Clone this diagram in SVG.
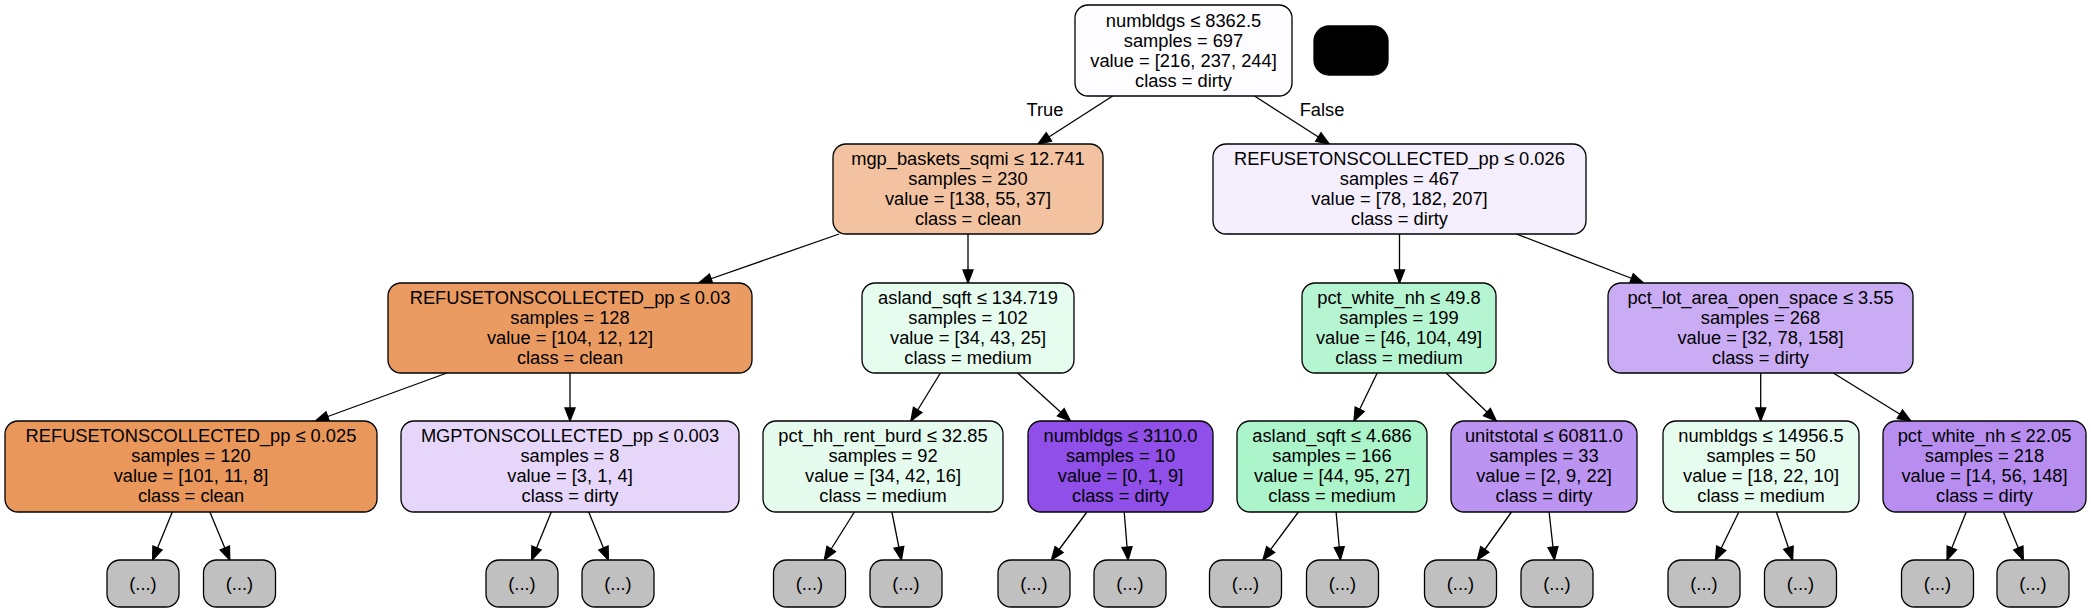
<svg xmlns="http://www.w3.org/2000/svg" width="2091" height="613" viewBox="0 0 2091 613">
<style>
rect.b{stroke:#000;stroke-width:1.3}
rect.leaf{fill:#c0c0c0;stroke:#000;stroke-width:1.3}
text{font-family:"Liberation Sans",Arial,Helvetica,sans-serif;font-size:18.3px;fill:#000;text-anchor:middle}
#edges line{stroke:#000;stroke-width:1.3;marker-end:url(#arr)}
</style>
<defs>
<marker id="arr" markerUnits="userSpaceOnUse" markerWidth="16" markerHeight="14" viewBox="-1 -1 16 12" refX="13" refY="5" orient="auto">
<path d="M0,0 L13,5 L0,10 Z" fill="#000" stroke="#000" stroke-width="1.3"/>
</marker>
</defs>
<rect width="2091" height="613" fill="#fff"/>

<g id="edges">
<line x1="1112.7" y1="96" x2="1038" y2="144"/>
<line x1="1254.5" y1="96" x2="1329.3" y2="144"/>
<line x1="839.1" y1="234" x2="698.8" y2="283"/>
<line x1="968" y1="234" x2="968" y2="283"/>
<line x1="1399.5" y1="234" x2="1399.5" y2="283"/>
<line x1="1516.4" y1="234" x2="1643.6" y2="283"/>
<line x1="446.9" y1="373" x2="315.5" y2="421"/>
<line x1="570" y1="373" x2="570" y2="421"/>
<line x1="940.4" y1="373" x2="910.9" y2="421"/>
<line x1="1017.6" y1="373" x2="1070.4" y2="421"/>
<line x1="1377.2" y1="373" x2="1354" y2="421"/>
<line x1="1446.1" y1="373" x2="1496.4" y2="421"/>
<line x1="1760.7" y1="373" x2="1760.7" y2="421"/>
<line x1="1833.3" y1="373" x2="1910.9" y2="421"/>
<line x1="172.3" y1="512" x2="152.6" y2="560"/>
<line x1="209.9" y1="512" x2="229.8" y2="560"/>
<line x1="551.3" y1="512" x2="531.6" y2="560"/>
<line x1="588.7" y1="512" x2="608.4" y2="560"/>
<line x1="854.4" y1="512" x2="824.3" y2="560"/>
<line x1="891.9" y1="512" x2="901.4" y2="560"/>
<line x1="1086.9" y1="512" x2="1051.4" y2="560"/>
<line x1="1124.2" y1="512" x2="1128.1" y2="560"/>
<line x1="1298.4" y1="512" x2="1262.9" y2="560"/>
<line x1="1336.1" y1="512" x2="1340.4" y2="560"/>
<line x1="1511.5" y1="512" x2="1477.3" y2="560"/>
<line x1="1549.1" y1="512" x2="1554.4" y2="560"/>
<line x1="1738.8" y1="512" x2="1715.5" y2="560"/>
<line x1="1776.4" y1="512" x2="1792.6" y2="560"/>
<line x1="1966.2" y1="512" x2="1947" y2="560"/>
<line x1="2003.4" y1="512" x2="2023.3" y2="560"/>
<text x="1045" y="116">True</text>
<text x="1322" y="116">False</text>
</g>

<g id="n0">
<rect class="b" x="1075" y="5" width="217" height="91" rx="13" fill="#fdfcff"/>
<text x="1183.5"><tspan x="1183.5" y="26.5">numbldgs ≤ 8362.5</tspan><tspan x="1183.5" y="46.5">samples = 697</tspan><tspan x="1183.5" y="66.5">value = [216, 237, 244]</tspan><tspan x="1183.5" y="86.5">class = dirty</tspan></text>
</g>
<g id="legend">
<rect x="1314" y="26" width="74" height="49" rx="15" fill="#000" stroke="#000" stroke-width="1.3"/>
</g>

<g id="n1">
<rect class="b" x="833" y="144" width="270" height="90" rx="13" fill="#f3c3a1"/>
<text><tspan x="968" y="165">mgp_baskets_sqmi ≤ 12.741</tspan><tspan x="968" y="185">samples = 230</tspan><tspan x="968" y="205">value = [138, 55, 37]</tspan><tspan x="968" y="225">class = clean</tspan></text>
</g>
<g id="n2">
<rect class="b" x="1213" y="144" width="373" height="90" rx="13" fill="#f4eefd"/>
<text><tspan x="1399.5" y="165">REFUSETONSCOLLECTED_pp ≤ 0.026</tspan><tspan x="1399.5" y="185">samples = 467</tspan><tspan x="1399.5" y="205">value = [78, 182, 207]</tspan><tspan x="1399.5" y="225">class = dirty</tspan></text>
</g>

<g id="n3">
<rect class="b" x="388" y="283" width="364" height="90" rx="13" fill="#ea9b62"/>
<text><tspan x="570" y="304">REFUSETONSCOLLECTED_pp ≤ 0.03</tspan><tspan x="570" y="324">samples = 128</tspan><tspan x="570" y="344">value = [104, 12, 12]</tspan><tspan x="570" y="364">class = clean</tspan></text>
</g>
<g id="n4">
<rect class="b" x="862" y="283" width="212" height="90" rx="13" fill="#e5fcee"/>
<text><tspan x="968" y="304">asland_sqft ≤ 134.719</tspan><tspan x="968" y="324">samples = 102</tspan><tspan x="968" y="344">value = [34, 43, 25]</tspan><tspan x="968" y="364">class = medium</tspan></text>
</g>
<g id="n5">
<rect class="b" x="1302" y="283" width="194" height="90" rx="13" fill="#b6f5d1"/>
<text><tspan x="1399" y="304">pct_white_nh ≤ 49.8</tspan><tspan x="1399" y="324">samples = 199</tspan><tspan x="1399" y="344">value = [46, 104, 49]</tspan><tspan x="1399" y="364">class = medium</tspan></text>
</g>
<g id="n6">
<rect class="b" x="1608" y="283" width="305" height="90" rx="13" fill="#caacf4"/>
<text><tspan x="1760.5" y="304">pct_lot_area_open_space ≤ 3.55</tspan><tspan x="1760.5" y="324">samples = 268</tspan><tspan x="1760.5" y="344">value = [32, 78, 158]</tspan><tspan x="1760.5" y="364">class = dirty</tspan></text>
</g>

<g id="n7">
<rect class="b" x="5" y="421" width="372" height="91" rx="13" fill="#e9975b"/>
<text><tspan x="191" y="442">REFUSETONSCOLLECTED_pp ≤ 0.025</tspan><tspan x="191" y="462">samples = 120</tspan><tspan x="191" y="482">value = [101, 11, 8]</tspan><tspan x="191" y="502">class = clean</tspan></text>
</g>
<g id="n8">
<rect class="b" x="401" y="421" width="338" height="91" rx="13" fill="#e6d7fa"/>
<text><tspan x="570" y="442">MGPTONSCOLLECTED_pp ≤ 0.003</tspan><tspan x="570" y="462">samples = 8</tspan><tspan x="570" y="482">value = [3, 1, 4]</tspan><tspan x="570" y="502">class = dirty</tspan></text>
</g>
<g id="n9">
<rect class="b" x="763" y="421" width="240" height="91" rx="13" fill="#e4fbed"/>
<text><tspan x="883" y="442">pct_hh_rent_burd ≤ 32.85</tspan><tspan x="883" y="462">samples = 92</tspan><tspan x="883" y="482">value = [34, 42, 16]</tspan><tspan x="883" y="502">class = medium</tspan></text>
</g>
<g id="n10">
<rect class="b" x="1028" y="421" width="185" height="91" rx="13" fill="#8f4fe8"/>
<text><tspan x="1120.5" y="442">numbldgs ≤ 3110.0</tspan><tspan x="1120.5" y="462">samples = 10</tspan><tspan x="1120.5" y="482">value = [0, 1, 9]</tspan><tspan x="1120.5" y="502">class = dirty</tspan></text>
</g>
<g id="n11">
<rect class="b" x="1237" y="421" width="190" height="91" rx="13" fill="#acf4ca"/>
<text><tspan x="1332" y="442">asland_sqft ≤ 4.686</tspan><tspan x="1332" y="462">samples = 166</tspan><tspan x="1332" y="482">value = [44, 95, 27]</tspan><tspan x="1332" y="502">class = medium</tspan></text>
</g>
<g id="n12">
<rect class="b" x="1451" y="421" width="186" height="91" rx="13" fill="#bb94f1"/>
<text><tspan x="1544" y="442">unitstotal ≤ 60811.0</tspan><tspan x="1544" y="462">samples = 33</tspan><tspan x="1544" y="482">value = [2, 9, 22]</tspan><tspan x="1544" y="502">class = dirty</tspan></text>
</g>
<g id="n13">
<rect class="b" x="1663" y="421" width="196" height="91" rx="13" fill="#e6fcef"/>
<text><tspan x="1761" y="442">numbldgs ≤ 14956.5</tspan><tspan x="1761" y="462">samples = 50</tspan><tspan x="1761" y="482">value = [18, 22, 10]</tspan><tspan x="1761" y="502">class = medium</tspan></text>
</g>
<g id="n14">
<rect class="b" x="1883" y="421" width="203" height="91" rx="13" fill="#b78ef0"/>
<text><tspan x="1984.5" y="442">pct_white_nh ≤ 22.05</tspan><tspan x="1984.5" y="462">samples = 218</tspan><tspan x="1984.5" y="482">value = [14, 56, 148]</tspan><tspan x="1984.5" y="502">class = dirty</tspan></text>
</g>

<g id="l1"><rect class="leaf" x="107" y="560" width="72" height="47" rx="13"/><text x="143" y="590">(...)</text></g>
<g id="l2"><rect class="leaf" x="203.5" y="560" width="72" height="47" rx="13"/><text x="239.5" y="590">(...)</text></g>
<g id="l3"><rect class="leaf" x="486" y="560" width="72" height="47" rx="13"/><text x="522" y="590">(...)</text></g>
<g id="l4"><rect class="leaf" x="582" y="560" width="72" height="47" rx="13"/><text x="618" y="590">(...)</text></g>
<g id="l5"><rect class="leaf" x="773.5" y="560" width="72" height="47" rx="13"/><text x="809.5" y="590">(...)</text></g>
<g id="l6"><rect class="leaf" x="870" y="560" width="72" height="47" rx="13"/><text x="906" y="590">(...)</text></g>
<g id="l7"><rect class="leaf" x="998" y="560" width="72" height="47" rx="13"/><text x="1034" y="590">(...)</text></g>
<g id="l8"><rect class="leaf" x="1094" y="560" width="72" height="47" rx="13"/><text x="1130" y="590">(...)</text></g>
<g id="l9"><rect class="leaf" x="1209.5" y="560" width="72" height="47" rx="13"/><text x="1245.5" y="590">(...)</text></g>
<g id="l10"><rect class="leaf" x="1306.5" y="560" width="72" height="47" rx="13"/><text x="1342.5" y="590">(...)</text></g>
<g id="l11"><rect class="leaf" x="1424.5" y="560" width="72" height="47" rx="13"/><text x="1460.5" y="590">(...)</text></g>
<g id="l12"><rect class="leaf" x="1521" y="560" width="72" height="47" rx="13"/><text x="1557" y="590">(...)</text></g>
<g id="l13"><rect class="leaf" x="1668" y="560" width="72" height="47" rx="13"/><text x="1704" y="590">(...)</text></g>
<g id="l14"><rect class="leaf" x="1764.5" y="560" width="72" height="47" rx="13"/><text x="1800.5" y="590">(...)</text></g>
<g id="l15"><rect class="leaf" x="1901.5" y="560" width="72" height="47" rx="13"/><text x="1937.5" y="590">(...)</text></g>
<g id="l16"><rect class="leaf" x="1997" y="560" width="72" height="47" rx="13"/><text x="2033" y="590">(...)</text></g>
</svg>
